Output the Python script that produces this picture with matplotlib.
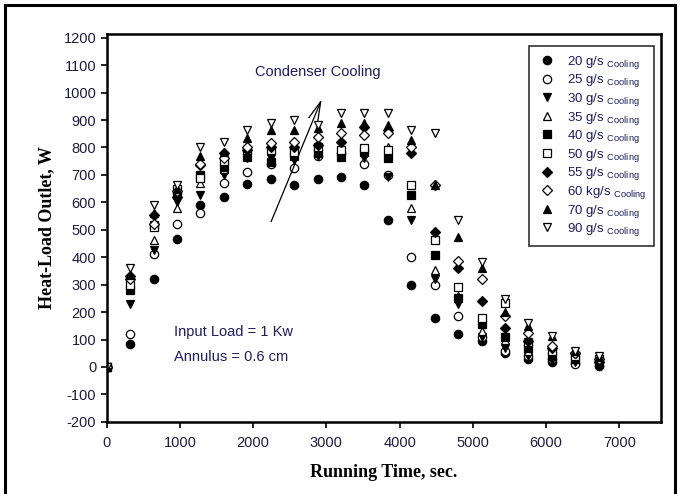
import matplotlib.pyplot as plt
from matplotlib.patches import Rectangle

# running time, sec (one reading every 320 s)
time_s = [0, 320, 640, 960, 1280, 1600, 1920, 2240, 2560, 2880, 3200,
          3520, 3840, 4160, 4480, 4800, 5120, 5440, 5760, 6080, 6400, 6720]

# heat-load outlet, W, for each cooling rate
q20 = [0, 84, 320, 465, 590, 620, 667, 685, 663, 685, 692, 663, 535, 300, 180, 121, 95, 51, 30, 20, 15, 5]
q25 = [0, 120, 410, 520, 560, 670, 711, 740, 725, 770, 780, 740, 700, 400, 297, 187, 110, 60, 40, 30, 10, 20]
q30 = [0, 230, 425, 600, 626, 700, 760, 760, 755, 770, 766, 762, 692, 535, 322, 231, 110, 70, 40, 25, 20, 10]
q35 = [0, 300, 461, 580, 670, 720, 780, 800, 790, 800, 800, 790, 800, 579, 352, 260, 130, 100, 60, 40, 30, 20]
q40 = [0, 280, 516, 630, 700, 729, 765, 747, 770, 780, 766, 784, 762, 626, 407, 253, 157, 110, 70, 40, 30, 15]
q50 = [0, 300, 510, 650, 690, 750, 790, 791, 784, 800, 791, 798, 791, 663, 462, 293, 180, 235, 90, 60, 40, 30]
q55 = [0, 330, 553, 620, 736, 780, 790, 800, 800, 810, 820, 875, 864, 780, 491, 359, 242, 143, 95, 70, 50, 20]
q60 = [0, 320, 520, 640, 740, 762, 800, 817, 820, 839, 853, 846, 853, 800, 663, 388, 322, 187, 125, 77, 50, 30]
q70 = [0, 335, 560, 650, 770, 784, 835, 864, 864, 870, 890, 890, 883, 828, 663, 473, 359, 200, 150, 114, 60, 35]
q90 = [0, 360, 590, 663, 800, 821, 864, 890, 900, 883, 927, 927, 927, 864, 853, 535, 381, 249, 161, 114, 59, 40]

rates = ["20 g/s", "25 g/s", "30 g/s", "35 g/s", "40 g/s",
         "50 g/s", "55 g/s", "60 kg/s", "70 g/s", "90 g/s"]
series = [q20, q25, q30, q35, q40, q50, q55, q60, q70, q90]
markers = ["o", "o", "v", "^", "s", "s", "D", "D", "^", "v"]
filled = [True, False, True, False, True, False, True, False, True, False]

plt.rcParams['font.family'] = ['Liberation Sans', 'DejaVu Sans']
plt.rcParams['axes.unicode_minus'] = False
plt.rcParams['mathtext.fontset'] = 'custom'
plt.rcParams['mathtext.rm'] = 'Liberation Sans'

fig = plt.figure(figsize=(6.8, 4.94), dpi=100)
ax = fig.add_axes([0.157, 0.146, 0.815, 0.786])

for vals, lab, m, f in zip(series, rates, markers, filled):
    ms = 5.5 if m == "D" else 6.0
    ax.plot(time_s, vals, linestyle="none", marker=m, markersize=ms,
            markerfacecolor="black" if f else "white",
            markeredgecolor="black", markeredgewidth=0.9,
            label=lab + r" $_{\mathregular{Cooling}}$")

ax.set_xlim(0, 7570)
ax.set_ylim(-200, 1215)
ax.set_xticks(range(0, 8000, 1000))
ax.set_yticks(range(-200, 1300, 100))
for s in ax.spines.values():
    s.set_linewidth(1.8)
ax.tick_params(axis="both", direction="out", length=4, width=1.2,
               labelsize=10.5, labelcolor="#1c1c3c")
ax.tick_params(axis="x", pad=6)

ax.set_xlabel("Running Time, sec.", family="Liberation Serif",
              fontweight="bold", fontsize=13, labelpad=10)
ax.set_ylabel("Heat-Load Outlet, W", family="Liberation Serif",
              fontweight="bold", fontsize=13, labelpad=6)

leg = ax.legend(loc="upper right", bbox_to_anchor=(0.993, 0.975),
                fontsize=9.5, frameon=True, fancybox=False,
                edgecolor="black", borderpad=0.6, labelspacing=0.12,
                handletextpad=0.7, handlelength=1.6, borderaxespad=0.2)
leg.get_frame().set_linewidth(1.2)
for t in leg.get_texts():
    t.set_color("#1c1c5a")

ax.text(2030, 1060, "Condenser Cooling", fontsize=10.5, color="#1c1c5a")
ax.annotate("", xy=(2950, 985), xytext=(2230, 520),
            arrowprops=dict(arrowstyle="->,head_length=1.4,head_width=0.35",
                            color="black", lw=0.9))
ax.text(920, 128, "Input Load = 1 Kw", fontsize=10.5, color="#1c1c5a",
        va="center")
ax.text(920, 37, "Annulus = 0.6 cm", fontsize=10.5, color="#1c1c5a",
        va="center")

fig.patches.append(Rectangle((0.008, -0.05), 0.984, 1.04, transform=fig.transFigure,
                             fill=False, edgecolor="black", linewidth=2.2))

fig.savefig("out.png", dpi=100)
